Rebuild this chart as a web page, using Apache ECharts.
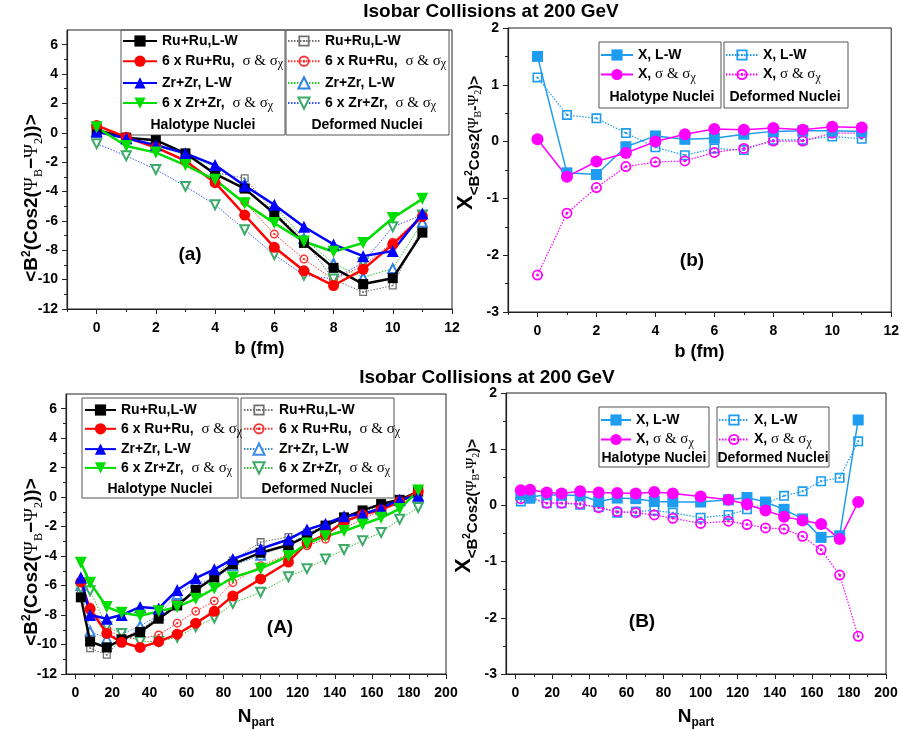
<!DOCTYPE html>
<html>
<head>
<meta charset="utf-8">
<script src="https://cdn.jsdelivr.net/npm/echarts@6/dist/echarts.min.js"></script>
<style>
  html, body { margin: 0; padding: 0; background: #fff; }
  #chart { width: 902px; height: 730px; }
</style>
</head>
<body>
<div id="chart"></div>
<script>
// x values
const bFm = [0, 1, 2, 3, 4, 5, 6, 7, 8, 9, 10, 11];
const nPart = [3, 8, 17, 25, 35, 45, 55, 65, 75, 85, 100, 115, 125, 135, 145, 155, 165, 175, 185];

// tick labels
const bTicks = [0, 2, 4, 6, 8, 10, 12];
const bMinor = [-1, 1, 3, 5, 7, 9, 11];
const nTicks = [0, 20, 40, 60, 80, 100, 120, 140, 160, 180, 200];
const nMinor = [10, 30, 50, 70, 90, 110, 130, 150, 170, 190];
const bTicksY = [-12, -10, -8, -6, -4, -2, 0, 2, 4, 6];
const bMinorY = [-11, -9, -7, -5, -3, -1, 1, 3, 5];
const xTicksY = [-3, -2, -1, 0, 1, 2];
const xMinorY = [-2.5, -1.5, -0.5, 0.5, 1.5];

// (a) <B^2 cos2(..)> vs b
const aRuLW   = [0.2, -0.33, -0.5, -1.4, -2.8, -3.8, -5.5, -7.5, -9.2, -10.3, -9.9, -6.8];
const aRuSig  = [0.5, -0.3, -1.0, -1.9, -3.4, -5.6, -7.8, -9.4, -10.4, -9.3, -7.6, -5.7];
const aZrLW   = [0.07, -0.38, -0.83, -1.4, -2.2, -3.6, -4.9, -6.4, -7.6, -8.4, -8.05, -5.5];
const aZrSig  = [0.38, -0.9, -1.35, -2.2, -3.2, -4.8, -6.15, -7.4, -8.1, -7.5, -5.8, -4.5];
const aRuLWd  = [0.25, -0.35, -0.55, -1.45, -2.7, -3.1, -5.4, -7.3, -10.0, -10.85, -10.4, -6.4];
const aRuSigd = [0.45, -0.35, -1.05, -1.95, -3.3, -4.7, -6.9, -8.6, -10.0, -9.05, -7.45, -5.6];
const aZrLWd  = [0.1, -0.4, -0.9, -1.5, -2.3, -3.5, -5.0, -7.2, -8.9, -9.85, -9.25, -6.1];
const aZrSigd = [-0.74, -1.57, -2.5, -3.65, -4.9, -6.6, -8.3, -9.7, -9.95, -8.85, -6.4, -5.6];

// (b) X vs b
const bXLW   = [1.5, -0.55, -0.58, -0.09, 0.1, 0.04, 0.06, 0.13, 0.18, 0.19, 0.19, 0.18];
const bXSig  = [0.04, -0.62, -0.35, -0.2, 0.0, 0.13, 0.22, 0.21, 0.24, 0.21, 0.26, 0.25];
const bXLWd  = [1.13, 0.47, 0.41, 0.15, -0.1, -0.24, -0.12, -0.15, 0.03, 0.03, 0.09, 0.05];
const bXSigd = [-2.35, -1.26, -0.81, -0.44, -0.36, -0.34, -0.19, -0.12, 0.01, 0.01, 0.15, 0.15];

// (A) <B^2 cos2(..)> vs Npart
const ARuLW   = [-6.8, -9.8, -10.2, -9.65, -9.15, -8.25, -7.35, -6.3, -5.45, -4.55, -3.77, -3.25, -2.65, -1.93, -1.37, -0.9, -0.47, -0.18, 0.38];
const ARuSig  = [-5.75, -7.6, -9.25, -9.85, -10.2, -9.8, -9.3, -8.55, -7.75, -6.7, -5.55, -4.4, -3.1, -2.55, -1.65, -1.2, -0.85, -0.3, 0.38];
const AZrLW   = [-5.45, -8.0, -8.25, -8.0, -7.45, -7.55, -6.3, -5.5, -4.9, -4.2, -3.5, -2.87, -2.2, -1.8, -1.3, -1.15, -0.75, -0.18, 0.1];
const AZrSig  = [-4.45, -5.8, -7.45, -7.85, -8.05, -7.75, -7.45, -6.9, -6.2, -5.45, -4.85, -4.0, -3.15, -2.65, -2.3, -1.85, -1.4, -0.8, 0.45];
const ARuLWd  = [-6.35, -10.25, -10.7, -9.6, -9.0, -8.1, -7.3, -6.2, -5.3, -4.3, -3.05, -2.7, -2.4, -1.95, -1.45, -1.0, -0.6, -0.25, 0.3];
const ARuSigd = [-5.9, -7.45, -8.95, -9.55, -9.6, -9.35, -8.55, -7.75, -7.05, -5.8, -4.65, -3.9, -3.3, -2.85, -2.1, -1.5, -0.9, -0.4, 0.3];
const AZrLWd  = [-6.0, -9.1, -9.6, -9.3, -8.75, -8.0, -6.6, -5.8, -5.6, -4.65, -3.95, -3.2, -2.5, -2.0, -1.45, -1.2, -0.8, -0.25, 0.1];
const AZrSigd = [-6.2, -6.35, -8.8, -9.25, -9.8, -9.8, -9.5, -8.8, -8.2, -7.2, -6.45, -5.4, -4.85, -4.2, -3.55, -2.95, -2.4, -1.5, -0.7];

// (B) X vs Npart
const BXLW   = [0.19, 0.15, 0.19, 0.18, 0.18, 0.07, 0.13, 0.12, 0.07, 0.06, 0.06, 0.1, 0.14, 0.06, -0.07, -0.24, -0.57, -0.54, 1.52];
const BXSig  = [0.27, 0.28, 0.23, 0.21, 0.25, 0.23, 0.22, 0.21, 0.24, 0.21, 0.16, 0.1, 0.02, -0.09, -0.2, -0.27, -0.33, -0.6, 0.06];
const BXLWd  = [0.07, 0.12, 0.04, 0.04, 0.01, -0.03, -0.13, -0.11, -0.09, -0.13, -0.22, -0.17, -0.07, 0.03, 0.17, 0.25, 0.43, 0.49, 1.14];
const BXSigd = [0.12, 0.15, 0.04, 0.04, 0.03, -0.04, -0.11, -0.13, -0.17, -0.23, -0.32, -0.28, -0.34, -0.4, -0.42, -0.55, -0.79, -1.24, -2.33];

const FONT = 'Liberation Sans, Arial, sans-serif';
const SERIF = 'Liberation Serif, Times New Roman, serif';
const sqDot = 'path://M0 0H10V10H0Z M1.6 1.6V8.4H8.4V1.6Z M4 4H6V6H4Z';
const circDot = 'path://M5 0A5 5 0 1 1 5 10A5 5 0 1 1 5 0Z M5 1.6A3.4 3.4 0 1 0 5 8.4A3.4 3.4 0 1 0 5 1.6Z M5 3.7A1.3 1.3 0 1 1 5 6.3A1.3 1.3 0 1 1 5 3.7Z';

const sig = '{g|σ & σ}{c|χ}';
const labels = {
  aRuLW: '{t|Ru+Ru,L-W}', aRuSig: '{t|6 x Ru+Ru,  }' + sig, aZrLW: '{t|Zr+Zr, L-W}', aZrSig: '{t|6 x Zr+Zr,  }' + sig,
  aRuLWd: '{t|Ru+Ru,L-W}', aRuSigd: '{t|6 x Ru+Ru,  }' + sig, aZrLWd: '{t|Zr+Zr, L-W}', aZrSigd: '{t|6 x Zr+Zr,  }' + sig,
  ARuLW: '{t|Ru+Ru,L-W}', ARuSig: '{t|6 x Ru+Ru,  }' + sig, AZrLW: '{t|Zr+Zr, L-W}', AZrSig: '{t|6 x Zr+Zr,  }' + sig,
  ARuLWd: '{t|Ru+Ru,L-W}', ARuSigd: '{t|6 x Ru+Ru,  }' + sig, AZrLWd: '{t|Zr+Zr, L-W}', AZrSigd: '{t|6 x Zr+Zr,  }' + sig,
  bLW: '{t|X, L-W}', bSig: '{t|X, }' + sig, bLWd: '{t|X, L-W}', bSigd: '{t|X, }' + sig,
  BLW: '{t|X, L-W}', BSig: '{t|X, }' + sig, BLWd: '{t|X, L-W}', BSigd: '{t|X, }' + sig
};

function pts(xs, ys) {
  return xs.map((x, i) => [x, ys[i]]);
}

function line(key, gi, xs, ys, o) {
  return {
    name: key, type: 'line', xAxisIndex: gi, yAxisIndex: gi,
    data: pts(xs, ys),
    symbol: o.symbol, symbolSize: o.size, symbolRotate: o.rot || 0,
    lineStyle: { color: o.line || o.color, width: o.lw, type: o.dash ? [1.5, 1.5] : 'solid' },
    itemStyle: { color: o.color, borderColor: o.color, borderWidth: o.bw || 0 },
    z: o.z || 3, animation: false, emphasis: { disabled: true }
  };
}

function legend(keys, left, top, itemWidth, gap) {
  return {
    data: keys, orient: 'vertical', left: left, top: top, padding: 0,
    itemWidth: itemWidth, itemHeight: 14, itemGap: gap, selectedMode: false,
    formatter: (name) => labels[name],
    textStyle: {
      rich: {
        t: { fontFamily: FONT, fontSize: 14, fontWeight: 'bold', color: '#000', lineHeight: 18 },
        g: { fontFamily: SERIF, fontSize: 15, color: '#000', lineHeight: 18 },
        c: { fontFamily: SERIF, fontSize: 12, color: '#000', lineHeight: 12, verticalAlign: 'bottom' }
      }
    }
  };
}

function mainX(gi, min, max, ticks, name) {
  return {
    gridIndex: gi, type: 'value', min: min, max: max, position: 'bottom',
    name: name, nameLocation: 'middle', nameGap: 31,
    nameTextStyle: {
      fontFamily: FONT, fontSize: 18, fontWeight: 'bold', color: '#000',
      rich: {
        n: { fontFamily: FONT, fontSize: 19, fontWeight: 'bold', color: '#000', lineHeight: 24 },
        s: { fontFamily: FONT, fontSize: 12, fontWeight: 'bold', color: '#000', lineHeight: 12, verticalAlign: 'bottom' }
      }
    },
    axisLine: { show: true, onZero: false, lineStyle: { color: '#222', width: 1.2 } },
    axisTick: { show: true, customValues: ticks, length: 5, lineStyle: { color: '#222' } },
    axisLabel: { customValues: ticks, margin: 12, fontFamily: FONT, fontSize: 14, fontWeight: 'bold', color: '#000' },
    splitLine: { show: false }
  };
}

function mainY(gi, min, max, ticks) {
  return {
    gridIndex: gi, type: 'value', min: min, max: max, position: 'left',
    axisLine: { show: true, onZero: false, lineStyle: { color: '#222', width: 1.2 } },
    axisTick: { show: true, customValues: ticks, length: 5, lineStyle: { color: '#222' } },
    axisLabel: { customValues: ticks, margin: 9, fontFamily: FONT, fontSize: 14, fontWeight: 'bold', color: '#000' },
    splitLine: { show: false }
  };
}

function minorAx(gi, min, max, vals, pos) {
  return {
    gridIndex: gi, type: 'value', min: min, max: max, position: pos,
    axisLine: { show: false, onZero: false },
    axisTick: { show: true, customValues: vals, length: 3, lineStyle: { color: '#222' } },
    axisLabel: { show: false },
    splitLine: { show: false }
  };
}

function text(x, y, str, size, extra) {
  return Object.assign({
    type: 'text', x: x, y: y, z: 10,
    style: { text: str, fontFamily: FONT, fontSize: size, fontWeight: 'bold', fill: '#000', align: 'center', verticalAlign: 'middle' }
  }, extra || {});
}

function box(x, y, w, h) {
  return { type: 'rect', z: 1, shape: { x: x, y: y, width: w, height: h }, style: { fill: 'none', stroke: '#555', lineWidth: 1 } };
}

const yNameA = {
  text: '{m|<B}{p|2}{m|(Cos2(}{g|Ψ}{s|B}{m|−}{g|Ψ}{s|2}{m|))>}',
  rich: {
    m: { fontFamily: FONT, fontSize: 19, fontWeight: 'bold', fill: '#000', lineHeight: 26 },
    g: { fontFamily: SERIF, fontSize: 19, fill: '#000', lineHeight: 26 },
    p: { fontFamily: FONT, fontSize: 12, fontWeight: 'bold', fill: '#000', lineHeight: 12, verticalAlign: 'top', padding: [2, 0, 0, 0] },
    s: { fontFamily: SERIF, fontSize: 12, fill: '#000', lineHeight: 12, verticalAlign: 'bottom' }
  }
};
const yNameX = {
  text: '{x|X}{s|<B}{p|2}{s|Cos2(}{g|Ψ}{q|B}{s|-}{g|Ψ}{q|2}{s|)>}',
  rich: {
    x: { fontFamily: FONT, fontSize: 22, fontWeight: 'bold', fill: '#000', lineHeight: 28, verticalAlign: 'top' },
    s: { fontFamily: FONT, fontSize: 15, fontWeight: 'bold', fill: '#000', lineHeight: 15, verticalAlign: 'bottom', padding: [0, 0, 1, 0] },
    g: { fontFamily: SERIF, fontSize: 15, fill: '#000', lineHeight: 15, verticalAlign: 'bottom', padding: [0, 0, 1, 0] },
    p: { fontFamily: FONT, fontSize: 10, fontWeight: 'bold', fill: '#000', lineHeight: 10, verticalAlign: 'bottom', padding: [0, 0, 9, 0] },
    q: { fontFamily: SERIF, fontSize: 10, fill: '#000', lineHeight: 10, verticalAlign: 'bottom' }
  }
};

function rotName(x, y, def) {
  return {
    type: 'text', x: x, y: y, rotation: Math.PI / 2, z: 10,
    style: Object.assign({ align: 'center', verticalAlign: 'middle' }, def)
  };
}

const K = '#000000', R = '#FF0000', BL = '#0000FF', G = '#00DD00';
const XB = '#1E9CF0', MG = '#FF00FF';

const series = [
  // (a) deformed
  line('aRuLWd', 0, bFm, aRuLWd, { symbol: sqDot, size: 8, color: '#707070', lw: 1, dash: true }),
  line('aRuSigd', 0, bFm, aRuSigd, { symbol: circDot, size: 9, color: '#FF3030', lw: 1, dash: true }),
  line('aZrLWd', 0, bFm, aZrLWd, { symbol: 'emptyTriangle', size: 9, color: '#2E7FE8', line: '#22CC22', lw: 1, dash: true, bw: 1 }),
  line('aZrSigd', 0, bFm, aZrSigd, { symbol: 'emptyTriangle', size: 9, rot: 180, color: '#3DAA6A', line: '#3355FF', lw: 1, dash: true, bw: 1 }),
  // (a) halotype
  line('aRuLW', 0, bFm, aRuLW, { symbol: 'rect', size: 10, color: K, lw: 2.5, z: 5 }),
  line('aRuSig', 0, bFm, aRuSig, { symbol: 'circle', size: 11, color: R, lw: 2.5, z: 5 }),
  line('aZrLW', 0, bFm, aZrLW, { symbol: 'triangle', size: 12, color: BL, lw: 2.5, z: 5 }),
  line('aZrSig', 0, bFm, aZrSig, { symbol: 'triangle', size: 12, rot: 180, color: G, lw: 2.5, z: 5 }),
  // (b)
  line('bLWd', 1, bFm, bXLWd, { symbol: sqDot, size: 10, color: XB, lw: 1.2, dash: true }),
  line('bSigd', 1, bFm, bXSigd, { symbol: circDot, size: 11, color: MG, lw: 1.2, dash: true }),
  line('bLW', 1, bFm, bXLW, { symbol: 'rect', size: 11, color: XB, lw: 1.5, z: 5 }),
  line('bSig', 1, bFm, bXSig, { symbol: 'circle', size: 12, color: MG, lw: 1.5, z: 5 }),
  // (A) deformed
  line('ARuLWd', 2, nPart, ARuLWd, { symbol: sqDot, size: 8, color: '#707070', lw: 1, dash: true }),
  line('ARuSigd', 2, nPart, ARuSigd, { symbol: circDot, size: 9, color: '#FF3030', lw: 1, dash: true }),
  line('AZrLWd', 2, nPart, AZrLWd, { symbol: 'emptyTriangle', size: 9, color: '#3C8CE6', lw: 1, dash: true, bw: 1 }),
  line('AZrSigd', 2, nPart, AZrSigd, { symbol: 'emptyTriangle', size: 9, rot: 180, color: '#3DAA6A', line: '#33BB33', lw: 1, dash: true, bw: 1 }),
  // (A) halotype
  line('ARuLW', 2, nPart, ARuLW, { symbol: 'rect', size: 10, color: K, lw: 2.5, z: 5 }),
  line('ARuSig', 2, nPart, ARuSig, { symbol: 'circle', size: 11, color: R, lw: 2.5, z: 5 }),
  line('AZrLW', 2, nPart, AZrLW, { symbol: 'triangle', size: 12, color: BL, lw: 2.5, z: 5 }),
  line('AZrSig', 2, nPart, AZrSig, { symbol: 'triangle', size: 12, rot: 180, color: G, lw: 2.5, z: 5 }),
  // (B)
  line('BLWd', 3, nPart, BXLWd, { symbol: sqDot, size: 10, color: XB, lw: 1.2, dash: true }),
  line('BSigd', 3, nPart, BXSigd, { symbol: circDot, size: 11, color: MG, lw: 1.2, dash: true }),
  line('BLW', 3, nPart, BXLW, { symbol: 'rect', size: 11, color: XB, lw: 1.5, z: 5 }),
  line('BSig', 3, nPart, BXSig, { symbol: 'circle', size: 12, color: MG, lw: 1.5, z: 5 })
];

const gridBase = { show: true, borderColor: '#222', borderWidth: 1, backgroundColor: 'transparent' };

const option = {
  backgroundColor: '#fff',
  animation: false,
  grid: [
    Object.assign({ left: 67, top: 30, width: 385, height: 279 }, gridBase),
    Object.assign({ left: 508, top: 28, width: 385, height: 284 }, gridBase),
    Object.assign({ left: 66, top: 394, width: 380, height: 280 }, gridBase),
    Object.assign({ left: 506, top: 393, width: 380, height: 281 }, gridBase)
  ],
  xAxis: [
    mainX(0, -1, 12, bTicks, 'b (fm)'),
    mainX(1, -1, 12, bTicks, 'b (fm)'),
    mainX(2, -5, 200, nTicks, '{n|N}{s|part}'),
    mainX(3, -5, 200, nTicks, '{n|N}{s|part}'),
    minorAx(0, -1, 12, bMinor, 'bottom'),
    minorAx(1, -1, 12, bMinor, 'bottom'),
    minorAx(2, -5, 200, nMinor, 'bottom'),
    minorAx(3, -5, 200, nMinor, 'bottom')
  ],
  yAxis: [
    mainY(0, -12, 7, bTicksY),
    mainY(1, -3, 2, xTicksY),
    mainY(2, -12, 7, bTicksY),
    mainY(3, -3, 2, xTicksY),
    minorAx(0, -12, 7, bMinorY, 'left'),
    minorAx(1, -3, 2, xMinorY, 'left'),
    minorAx(2, -12, 7, bMinorY, 'left'),
    minorAx(3, -3, 2, xMinorY, 'left')
  ],
  legend: [
    legend(['aRuLW', 'aRuSig', 'aZrLW', 'aZrSig'], 122, 34, 34, 5.7),
    legend(['aRuLWd', 'aRuSigd', 'aZrLWd', 'aZrSigd'], 287, 34, 32, 5.7),
    legend(['bLW', 'bSig'], 600, 48, 32, 5),
    legend(['bLWd', 'bSigd'], 725, 48, 32, 5),
    legend(['ARuLW', 'ARuSig', 'AZrLW', 'AZrSig'], 84, 403, 31, 4.3),
    legend(['ARuLWd', 'ARuSigd', 'AZrLWd', 'AZrSigd'], 243, 403, 30, 4.3),
    legend(['BLW', 'BSig'], 600, 413, 30, 5),
    legend(['BLWd', 'BSigd'], 718, 413, 30, 5)
  ],
  graphic: [
    text(491, 12, 'Isobar Collisions at 200 GeV', 19),
    text(487, 378, 'Isobar Collisions at 200 GeV', 19),
    box(121, 30, 164, 105), box(286, 30, 163, 105),
    box(599, 42, 122, 66), box(724, 42, 124, 66),
    box(82, 398, 156, 100), box(241, 398, 153, 100),
    box(599, 407, 110, 60), box(717, 407, 112, 60),
    text(203, 125, 'Halotype Nuclei', 14), text(367, 125, 'Deformed Nuclei', 14),
    text(662, 97, 'Halotype Nuclei', 14), text(785, 97, 'Deformed Nuclei', 14),
    text(160, 489, 'Halotype Nuclei', 14), text(317, 489, 'Deformed Nuclei', 14),
    text(654, 458, 'Halotype Nuclei', 14), text(773, 458, 'Deformed Nuclei', 14),
    text(190, 255, '(a)', 19), text(692, 261, '(b)', 19),
    text(280, 628, '(A)', 19), text(642, 622, '(B)', 19),
    rotName(32, 198, yNameA), rotName(469, 143, yNameX),
    rotName(32, 562, yNameA), rotName(467, 506, yNameX)
  ],
  series: series
};

const chart = echarts.init(document.getElementById('chart'), null, { renderer: 'canvas' });
chart.setOption(option);
</script>
</body>
</html>
